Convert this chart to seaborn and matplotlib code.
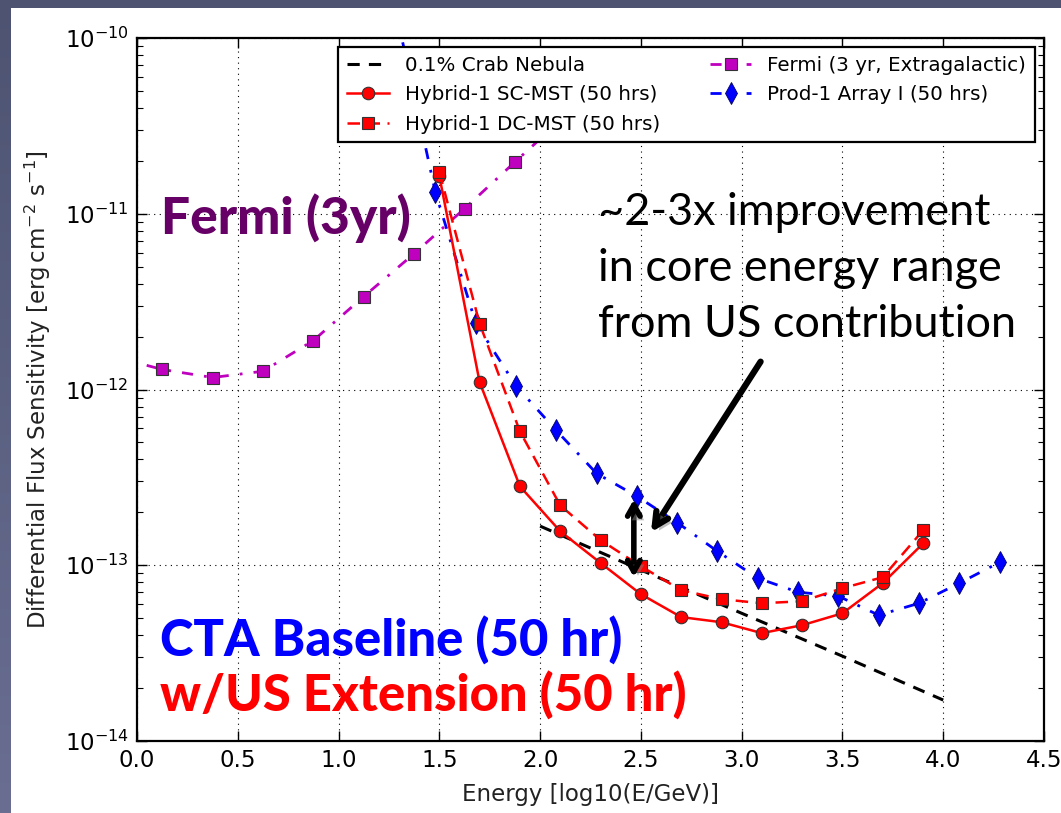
import numpy as np
import pandas as pd
import matplotlib
matplotlib.use("Agg")
import matplotlib.pyplot as plt
import matplotlib.patheffects as pe
from matplotlib.patches import Rectangle
import seaborn as sns

# ---------------- data ----------------
crab_x = [2.0, 2.5, 3.0, 3.5, 4.0]
crab_y = [1.67e-13, 9.4e-14, 5.33e-14, 3.04e-14, 1.71e-14]

sc_x = [1.5, 1.7, 1.9, 2.1, 2.3, 2.5, 2.7, 2.9, 3.1, 3.3, 3.5, 3.7, 3.9]
sc_y = [1.64e-11, 1.10e-12, 2.81e-13, 1.56e-13, 1.03e-13, 6.84e-14, 5.07e-14,
        4.74e-14, 4.11e-14, 4.56e-14, 5.33e-14, 7.91e-14, 1.33e-13]

dc_x = [1.5, 1.7, 1.9, 2.1, 2.3, 2.5, 2.7, 2.9, 3.1, 3.3, 3.5, 3.7, 3.9]
dc_y = [1.73e-11, 2.37e-12, 5.77e-13, 2.19e-13, 1.39e-13, 9.87e-14, 7.21e-14,
        6.41e-14, 6.08e-14, 6.24e-14, 7.40e-14, 8.55e-14, 1.58e-13]

fermi_x = [-0.125, 0.125, 0.375, 0.625, 0.875, 1.125, 1.375, 1.625, 1.875, 2.125]
fermi_y = [1.55e-12, 1.30e-12, 1.17e-12, 1.27e-12, 1.90e-12, 3.38e-12, 5.93e-12,
           1.07e-11, 1.97e-11, 3.6e-11]

prod_x = [1.28, 1.48, 1.68, 1.88, 2.08, 2.28, 2.48, 2.68, 2.88, 3.08, 3.28, 3.48,
          3.68, 3.88, 4.08, 4.28]
prod_y = [1.5e-10, 1.33e-11, 2.40e-12, 1.05e-12, 5.85e-13, 3.33e-13, 2.47e-13,
          1.75e-13, 1.20e-13, 8.44e-14, 7.03e-14, 6.67e-14, 5.20e-14, 6.08e-14,
          7.91e-14, 1.04e-13]

labels = ["0.1% Crab Nebula", "Hybrid-1 SC-MST (50 hrs)", "Hybrid-1 DC-MST (50 hrs)",
          "Fermi (3 yr, Extragalactic)", "Prod-1 Array I (50 hrs)"]

# ---------------- figure ----------------
W, H = 1061, 813
fig = plt.figure(figsize=(W / 100, H / 100), dpi=100)
plt.rcParams["mathtext.default"] = "regular"
plt.rcParams["font.family"] = ["DejaVu Sans"]

def fx(px):
    return px / W

def fy(py):
    return 1 - py / H

# slide background (vertical gradient) + white panel
top_c = np.array([0x4d, 0x53, 0x71]) / 255.0
bot_c = np.array([0x6a, 0x6f, 0x92]) / 255.0
t = np.linspace(0, 1, H).reshape(-1, 1, 1)
img = top_c * (1 - t) + bot_c * t
img = np.repeat(img, W, axis=1)
fig.figimage(img, xo=0, yo=0, origin="upper", zorder=-20)
fig.patches.append(Rectangle((fx(11), 0), 1, fy(8), transform=fig.transFigure,
                             facecolor="white", edgecolor="none", zorder=-10))

ax = fig.add_axes([fx(137), fy(741), fx(1044) - fx(137), fy(38) - fy(741)])
ax.set_facecolor("white")

mec = "#333333"
common = dict(ax=ax, sort=False, estimator=None, legend=False)

sns.lineplot(x=crab_x, y=crab_y, color="black", linestyle=(0, (4, 3)), linewidth=2.2,
             label=labels[0], zorder=3, **common)
sns.lineplot(x=sc_x, y=sc_y, color="red", linestyle="-", linewidth=1.8, marker="o",
             markersize=9, markeredgecolor=mec, markeredgewidth=0.8, label=labels[1],
             zorder=4, **common)
sns.lineplot(x=dc_x, y=dc_y, color="red", linestyle=(0, (5, 3)), linewidth=1.8, marker="s",
             markersize=9, markeredgecolor=mec, markeredgewidth=0.8, label=labels[2],
             zorder=4, **common)
sns.lineplot(x=fermi_x, y=fermi_y, color="#bf00bf", linestyle=(0, (4, 4, 1, 4)), linewidth=2.0,
             marker="s", markersize=9, markeredgecolor=mec, markeredgewidth=0.8,
             label=labels[3], zorder=3, **common)
sns.lineplot(x=prod_x, y=prod_y, color="blue", linestyle=(0, (4, 4, 1, 4)), linewidth=2.0,
             marker="d", markersize=11, markeredgecolor="#000066", markeredgewidth=0.6,
             label=labels[4], zorder=3, **common)

ax.set_yscale("log")
ax.set_xlim(0, 4.5)
ax.set_ylim(1e-14, 1e-10)
ax.set_xticks(np.arange(0, 4.51, 0.5))
ax.set_xticklabels([f"{v:.1f}" for v in np.arange(0, 4.51, 0.5)])
ax.grid(True, which="major", color="black", linestyle=(0, (1, 4)), linewidth=0.8)
ax.tick_params(which="both", direction="in", top=True, right=True, labelsize=16.5,
               colors="black")
ax.tick_params(which="major", length=7, width=1, pad=6)
ax.tick_params(which="minor", length=4, width=0.8)
ax.tick_params(axis="x", which="minor", bottom=False, top=False)
for s in ax.spines.values():
    s.set_color("black")
    s.set_linewidth(1.6)
ax.set_xlabel("Energy [log10(E/GeV)]", fontsize=16.5, color="#222222", labelpad=8)
ax.set_ylabel(r"Differential Flux Sensitivity [erg$\,$cm$^{-2}$ s$^{-1}$]",
              fontsize=16.5, color="#222222", labelpad=8)

leg = ax.legend(loc="upper right", ncol=2, fontsize=14.3, frameon=True, fancybox=False,
                framealpha=1.0, numpoints=1, handlelength=2.1, handletextpad=0.8,
                columnspacing=2.5, borderaxespad=0.45, labelspacing=0.52, borderpad=0.45)
leg.get_frame().set_edgecolor("black")
leg.get_frame().set_linewidth(1.6)
leg.set_zorder(10)

# ---------------- annotations ----------------
TF = ["Lato", "DejaVu Sans"]
fig.text(fx(161), fy(234), "Fermi (3yr)", fontsize=37, fontweight="black",
         color="#660066", family=TF, va="baseline", ha="left")
for txt, yb in [("~2-3x improvement", 225), ("in core energy range", 281),
                ("from US contribution", 337)]:
    fig.text(fx(598), fy(yb), txt, fontsize=32.4, color="black", family=TF,
             va="baseline", ha="left")
fig.text(fx(160), fy(657), "CTA Baseline (50 hr)", fontsize=36.5, fontweight="black",
         color="blue", family=TF, va="baseline", ha="left")
fig.text(fx(160), fy(712), "w/US Extension (50 hr)", fontsize=36.5, fontweight="black",
         color="red", family=TF, va="baseline", ha="left")

shadow = [pe.SimplePatchShadow(offset=(3, -3), shadow_rgbFace="gray", alpha=0.5),
          pe.Normal()]
ax.annotate("", xy=(2.55, 1.54e-13), xytext=(3.094, 1.44e-12), zorder=12,
            arrowprops=dict(arrowstyle="->,head_length=1.0,head_width=0.5", lw=4.5,
                            color="black", path_effects=shadow, shrinkA=0, shrinkB=0))
ax.annotate("", xy=(2.465, 8.55e-14), xytext=(2.465, 2.37e-13), zorder=12,
            arrowprops=dict(arrowstyle="<->,head_length=0.8,head_width=0.45", lw=4.0,
                            color="black", path_effects=shadow, shrinkA=0, shrinkB=0))

fig.savefig("out.png", dpi=100)
